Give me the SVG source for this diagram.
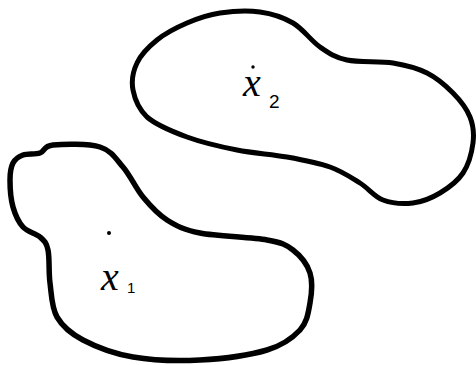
<svg xmlns="http://www.w3.org/2000/svg" width="476" height="365" viewBox="0 0 476 365">
<style>
.blob{fill:none;stroke:#000;stroke-width:5;stroke-linejoin:round;stroke-linecap:round}
.var{font-family:"Liberation Serif",serif;font-style:italic;fill:#000}
.sub{font-family:"Liberation Sans",sans-serif;fill:#000}
</style>
<rect width="476" height="365" fill="#fff"/>
<g id="region1">
<path class="blob" style="stroke-width:5.5" d="M53,145 C63,144 88.3,143.3 100,147 C111.7,150.7 115.8,158.7 123,167 C130.2,175.3 135.7,188.2 143,197 C150.3,205.8 157.5,214 167,220 C176.5,226 183.3,229.7 200,233 C216.7,236.3 251.5,237.2 267,240 C282.5,242.8 285.8,244.5 293,250 C300.2,255.5 307.2,264.2 310,273 C312.8,281.8 311.7,293.5 310,303 C308.3,312.5 307.2,322.2 300,330 C292.8,337.8 283.7,345 267,350 C250.3,355 222.3,358.8 200,360 C177.7,361.2 152.5,360.3 133,357 C113.5,353.7 95.7,346.7 83,340 C70.3,333.3 62.5,326.5 57,317 C51.5,307.5 51.5,294.2 50,283 C48.5,271.8 49.7,257.7 48,250 C46.3,242.3 44.2,240.8 40,237 C35.8,233.2 27.5,232 23,227 C18.5,222 15.2,214.8 13,207 C10.8,199.2 10,187.3 10,180 C10,172.7 10.8,167.2 13,163 C15.2,158.8 18.5,156.7 23,155 C27.5,153.3 35,154.7 40,153 C45,151.3 43,146 53,145 Z"/>
<circle cx="109" cy="233" r="2"/>
<text class="var" x="101" y="290" font-size="40">x</text>
<text class="sub" x="127" y="293" font-size="15">1</text>
</g>
<g id="region2">
<path class="blob" d="M187,23 C197.5,18.5 207.8,14.8 220,13 C232.2,11.2 247.8,10.3 260,12 C272.2,13.7 283,17.2 293,23 C303,28.8 311,40.8 320,47 C329,53.2 334.8,57.3 347,60 C359.2,62.7 379.7,60.8 393,63 C406.3,65.2 417,68 427,73 C437,78 445.8,85.7 453,93 C460.2,100.3 466.7,108.7 470,117 C473.3,125.3 474.2,133.7 473,143 C471.8,152.3 468.5,164.7 463,173 C457.5,181.3 448.3,188 440,193 C431.7,198 422.5,201.8 413,203 C403.5,204.2 391.8,203.3 383,200 C374.2,196.7 368.8,188.5 360,183 C351.2,177.5 342.2,171.3 330,167 C317.8,162.7 302.5,159.8 287,157 C271.5,154.2 253.7,153.3 237,150 C220.3,146.7 202,142.5 187,137 C172,131.5 156,124.8 147,117 C138,108.2 134.7,99 133,90 C131.3,81 133,71.3 137,63 C141,54.2 148.7,46.7 157,40 C165.3,33.3 176.5,27.5 187,23 Z"/>
<circle cx="253" cy="67" r="1.7"/>
<text class="var" x="243" y="96" font-size="40">x</text>
<text class="sub" x="269" y="108" font-size="19">2</text>
</g>
<g id="connectors"/>
</svg>
